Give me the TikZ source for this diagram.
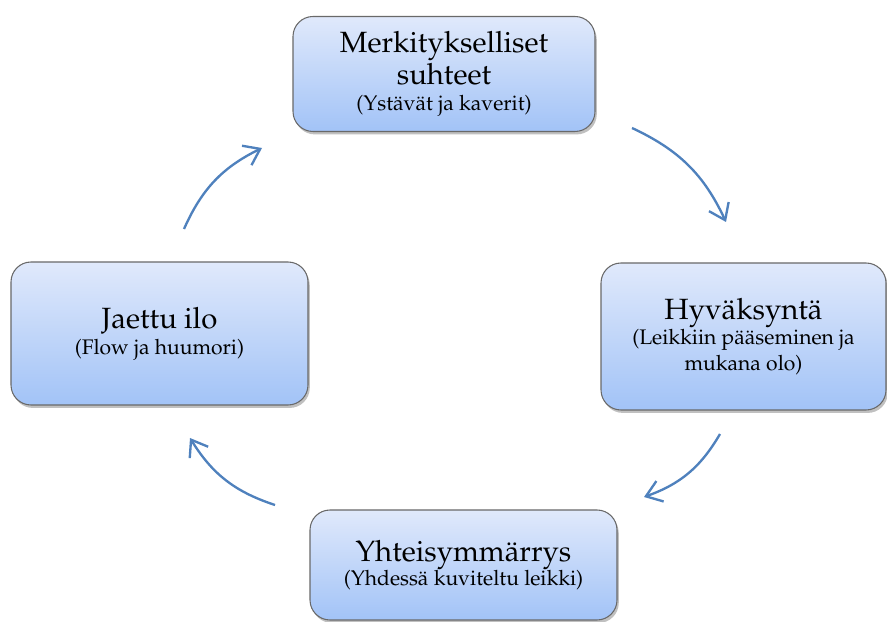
\documentclass[tikz,border=0pt]{standalone}
\usepackage[T1]{fontenc}
\usepackage{mathpazo}
\usetikzlibrary{arrows.meta, shadows}
\definecolor{ctop}{RGB}{224,233,251}
\definecolor{cbot}{RGB}{162,195,247}
\definecolor{cedge}{RGB}{105,105,105}
\definecolor{carrow}{RGB}{79,129,189}
\tikzset{
  every picture/.style={line width=0.9pt},
  box/.style={draw=cedge, top color=ctop, bottom color=cbot, rounded corners=0.6cm,
    align=center, inner sep=4pt, font=\fontsize{25}{27}\selectfont,
    drop shadow={shadow xshift=1.5pt, shadow yshift=-2.5pt, opacity=0.45, fill=black!55}},
  arrow/.style={-{Straight Barb[length=4.5mm, width=6.5mm]}, draw=carrow, line width=2pt, bend left=20},
}
\newcommand{\sub}[1]{{\fontsize{18}{21}\selectfont #1}}
\begin{document}
\begin{tikzpicture}[x=0.3mm, y=0.3mm]
  \useasboundingbox (0,0) rectangle (887,621);
  \node[box, minimum width=9.06cm, minimum height=3.45cm] (suhteet) at (444,547)
    {Merkitykselliset\\suhteet\\[-5pt]\sub{(Ystävät ja kaverit)}};
  \node[box, minimum width=8.55cm, minimum height=4.41cm] (hyvaksynta) at (743.5,284.5)
    {Hyväksyntä\\[-6pt]\sub{(Leikkiin pääseminen ja}\\[-5pt]\sub{mukana olo)}};
  \node[box, minimum width=9.21cm, minimum height=3.3cm] (yhteis) at (463.5,56)
    {Yhteisymmärrys\\[-6pt]\sub{(Yhdessä kuviteltu leikki)}};
  \node[box, minimum width=8.91cm, minimum height=4.29cm] (ilo) at (159.5,287.5)
    {Jaettu ilo\\[-5pt]\sub{(Flow ja huumori)}};
  % arrow ends between the boxes
  \coordinate (a1) at (184,392);  \coordinate (b1) at (262,473);
  \coordinate (a2) at (632,493);  \coordinate (b2) at (726,399);
  \coordinate (a3) at (720,187);  \coordinate (b3) at (644,124);
  \coordinate (a4) at (275,116);  \coordinate (b4) at (190,183);
  \draw[arrow] (a1) to (b1);
  \draw[arrow] (a2) to (b2);
  \draw[arrow] (a3) to (b3);
  \draw[arrow] (a4) to (b4);
\end{tikzpicture}
\end{document}
